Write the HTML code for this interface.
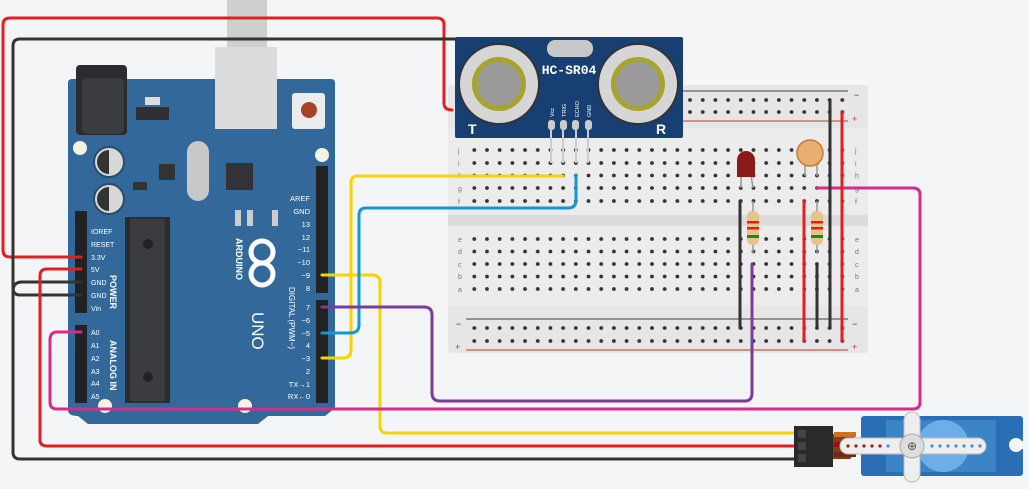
<!DOCTYPE html>
<html><head><style>
html,body{margin:0;padding:0;background:#f4f5f7;}
svg{display:block;font-family:"Liberation Sans",sans-serif;}
</style></head><body>
<svg width="1029" height="489" viewBox="0 0 1029 489">
<rect width="1029" height="489" fill="#f4f5f7"/>
<rect x="227" y="0" width="40" height="48" fill="#cfcfcf"/>
<rect x="448" y="85" width="420" height="268" rx="3" fill="#e6e6e6"/>
<rect x="448" y="128" width="420" height="88" fill="#ececec"/>
<rect x="448" y="226" width="420" height="80" fill="#ececec"/>
<rect x="448" y="215" width="420" height="11" fill="#dcdcdc"/>
<line x1="466" y1="91" x2="848" y2="91" stroke="#444" stroke-width="1"/>
<line x1="466" y1="121" x2="848" y2="121" stroke="#c33" stroke-width="1"/>
<line x1="466" y1="319" x2="848" y2="319" stroke="#444" stroke-width="1"/>
<line x1="466" y1="350" x2="848" y2="350" stroke="#c33" stroke-width="1"/>
<g fill="#333" font-size="9">
<text x="854" y="98">−</text><text x="852" y="122" fill="#c33">+</text>
<text x="456" y="327">−</text><text x="455" y="350" fill="#c33">+</text>
<text x="852" y="327">−</text><text x="852" y="350" fill="#c33">+</text>
</g>
<defs>
<pattern id="hp" x="468" y="0" width="12.69" height="489" patternUnits="userSpaceOnUse">
<circle cx="6.3" cy="150" r="1.9" fill="#333"/><circle cx="6.3" cy="163" r="1.9" fill="#333"/>
<circle cx="6.3" cy="175.5" r="1.9" fill="#333"/><circle cx="6.3" cy="188" r="1.9" fill="#333"/>
<circle cx="6.3" cy="201" r="1.9" fill="#333"/><circle cx="6.3" cy="239" r="1.9" fill="#333"/>
<circle cx="6.3" cy="251.5" r="1.9" fill="#333"/><circle cx="6.3" cy="264" r="1.9" fill="#333"/>
<circle cx="6.3" cy="276.5" r="1.9" fill="#333"/><circle cx="6.3" cy="289" r="1.9" fill="#333"/>
<circle cx="6.3" cy="100" r="1.9" fill="#333"/><circle cx="6.3" cy="112" r="1.9" fill="#333"/>
<circle cx="6.3" cy="328" r="1.9" fill="#333"/><circle cx="6.3" cy="341" r="1.9" fill="#333"/>
</pattern>
</defs>
<rect x="468" y="95" width="381" height="250" fill="url(#hp)"/>
<g fill="#777" font-size="7">
<text x="458" y="153">j</text><text x="458" y="166">i</text><text x="458" y="178">h</text><text x="458" y="191">g</text><text x="458" y="204">f</text>
<text x="458" y="242">e</text><text x="458" y="254">d</text><text x="458" y="267">c</text><text x="458" y="279">b</text><text x="458" y="292">a</text>
<text x="855" y="153">j</text><text x="855" y="166">i</text><text x="855" y="178">h</text><text x="855" y="191">g</text><text x="855" y="204">f</text>
<text x="855" y="242">e</text><text x="855" y="254">d</text><text x="855" y="267">c</text><text x="855" y="279">b</text><text x="855" y="292">a</text>
</g>
<path d="M68,83 Q68,79 72,79 H331 Q335,79 335,83 V408 L325,416 H268 L258,424 H88 L78,416 Q68,416 68,410 Z" fill="#32699a"/>
<rect x="76" y="65" width="51" height="70" rx="4" fill="#2a2c2f"/>
<rect x="82" y="78" width="42" height="56" rx="5" fill="#3a3c40"/>
<rect x="136" y="107" width="33" height="13" fill="#2f3033"/>
<rect x="145" y="97" width="15" height="8" fill="#ddd"/>
<rect x="215" y="47" width="62" height="82" fill="#dcdcdc"/>
<rect x="292" y="93" width="33" height="36" rx="3" fill="#ececec"/>
<circle cx="309" cy="110" r="8" fill="#a5422a"/>
<circle cx="80" cy="148" r="7" fill="#f4f2e2"/><circle cx="322" cy="155" r="7" fill="#f4f2e2"/>
<circle cx="105" cy="406" r="7" fill="#f4f2e2"/><circle cx="245" cy="406" r="7" fill="#f4f2e2"/>
<circle cx="109" cy="162" r="15" fill="#d8d8d8" stroke="#2b4b6a" stroke-width="2"/>
<path d="M109,150 A12,12 0 0 0 109,174 Z" fill="#333"/>
<circle cx="109" cy="199" r="15" fill="#d8d8d8" stroke="#2b4b6a" stroke-width="2"/>
<path d="M109,187 A12,12 0 0 0 109,211 Z" fill="#333"/>
<rect x="159" y="164" width="16" height="16" fill="#333"/>
<rect x="226" y="163" width="27" height="27" fill="#333"/>
<rect x="187" y="141" width="22" height="60" rx="11" fill="#c8c8c8"/>
<rect x="133" y="182" width="14" height="8" fill="#333"/>
<rect x="125" y="217" width="45" height="186" fill="#2a2c2f"/>
<rect x="130" y="219" width="35" height="182" fill="#3a3c40"/>
<circle cx="148" cy="244" r="5" fill="#222"/><circle cx="148" cy="377" r="5" fill="#222"/>
<rect x="75" y="211" width="12" height="102" fill="#222"/>
<rect x="75" y="325" width="12" height="78" fill="#222"/>
<rect x="316" y="166" width="12" height="127" fill="#222"/>
<rect x="316" y="300" width="12" height="103" fill="#222"/>
<rect x="235" y="210" width="6" height="16" fill="#ccc"/><rect x="247" y="210" width="6" height="16" fill="#ccc"/><rect x="272" y="210" width="6" height="16" fill="#ccc"/>
<g fill="#fff" font-size="7.5" text-anchor="end">
<text x="310" y="201">AREF</text><text x="310" y="214">GND</text><text x="310" y="227">13</text><text x="310" y="240">12</text>
<text x="310" y="252">~11</text><text x="310" y="265">~10</text><text x="310" y="278">~9</text><text x="310" y="291">8</text>
<text x="310" y="310">7</text><text x="310" y="323">~6</text><text x="310" y="336">~5</text><text x="310" y="348">4</text>
<text x="310" y="361">~3</text><text x="310" y="374">2</text><text x="310" y="387">TX→1</text><text x="310" y="399">RX←0</text>
</g>
<g fill="#fff" font-size="7">
<text x="91" y="234">IOREF</text><text x="91" y="247">RESET</text><text x="91" y="260">3.3V</text><text x="91" y="272">5V</text>
<text x="91" y="285">GND</text><text x="91" y="298">GND</text><text x="91" y="311">Vin</text>
<text x="91" y="335">A0</text><text x="91" y="348">A1</text><text x="91" y="361">A2</text><text x="91" y="374">A3</text><text x="91" y="386">A4</text><text x="91" y="399">A5</text>
</g>
<g fill="#fff" font-size="9" font-weight="bold">
<text transform="translate(110,275) rotate(90)">POWER</text>
<text transform="translate(110,340) rotate(90)">ANALOG IN</text>
<text transform="translate(236,238) rotate(90)">ARDUINO</text>
<text transform="translate(289,287) rotate(90)" font-weight="normal" font-size="8">DIGITAL (PWM~)</text>
<text transform="translate(252,312) rotate(90)" font-size="17" font-weight="normal">UNO</text>
</g>
<circle cx="262" cy="252" r="11" fill="none" stroke="#fff" stroke-width="5"/>
<circle cx="262" cy="274" r="11" fill="none" stroke="#fff" stroke-width="5"/>
<rect x="455" y="37" width="228" height="101" rx="2" fill="#173f72"/>
<rect x="547" y="40" width="46" height="17" rx="8" fill="#c8c8c8"/>
<text x="569" y="74" fill="#fff" font-size="13" font-weight="bold" text-anchor="middle" font-family="Liberation Mono,monospace">HC-SR04</text>
<circle cx="499" cy="84" r="40" fill="#d6d6d6" stroke="#333" stroke-width="2"/>
<circle cx="499" cy="84" r="27" fill="#a7a32c"/><circle cx="499" cy="84" r="22" fill="#9a9a9a"/>
<circle cx="638" cy="84" r="40" fill="#d6d6d6" stroke="#333" stroke-width="2"/>
<circle cx="638" cy="84" r="27" fill="#a7a32c"/><circle cx="638" cy="84" r="22" fill="#9a9a9a"/>
<g fill="#ccc"><rect x="548" y="120" width="7" height="10" rx="3"/><rect x="560" y="120" width="7" height="10" rx="3"/><rect x="572" y="120" width="7" height="10" rx="3"/><rect x="585" y="120" width="7" height="10" rx="3"/></g>
<g stroke="#ccc" stroke-width="2"><line x1="551" y1="130" x2="551" y2="163"/><line x1="563" y1="130" x2="563" y2="163"/><line x1="576" y1="130" x2="576" y2="163"/><line x1="588" y1="130" x2="588" y2="163"/></g>
<g fill="#fff" font-size="5.5">
<text transform="translate(554,117) rotate(-90)">Vcc</text><text transform="translate(566,117) rotate(-90)">TRIG</text>
<text transform="translate(579,117) rotate(-90)">ECHO</text><text transform="translate(591,117) rotate(-90)">GND</text>
<text x="468" y="134" font-size="14" font-weight="bold">T</text><text x="656" y="134" font-size="14" font-weight="bold">R</text>
</g>
<g fill="none" stroke-width="3" stroke-linecap="round">
<path d="M81,257 H10 Q3,257 3,250 V25 Q3,18 10,18 H437 Q444,18 444,25 V103 Q444,110 452,110" stroke="#e02020"/>
<path d="M455,39 H20 Q13,39 13,46 V288 Q13,295 20,295 H81" stroke="#333"/>
<path d="M81,282 H22 Q13,282 13,291 V452 Q13,459 20,459 H795" stroke="#333"/>
<path d="M81,269 H47 Q40,269 40,276 V440 Q40,446 47,446 H795" stroke="#e02020"/>
<path d="M322,275 H372 Q380,275 380,283 V426 Q380,433 387,433 H795" stroke="#f5d400"/>
<path d="M322,358 H343 Q351,358 351,350 V183 Q351,176 358,176 H563" stroke="#f5d400"/>
<path d="M322,333 H350 Q359,333 359,325 V215 Q359,208 366,208 H568 Q576,208 576,200 V175" stroke="#1596d6"/>
<path d="M322,307 H424 Q432,307 432,315 V393 Q432,401 440,401 H745 Q752,401 752,393 V264" stroke="#7b3c98"/>
<path d="M81,332 H57 Q50,332 50,340 V402 Q50,409 57,409 H913 Q920,409 920,402 V195 Q920,188 913,188 H817" stroke="#d62b8a"/>
<line x1="740" y1="201" x2="740" y2="328" stroke="#333"/>
<line x1="804" y1="201" x2="804" y2="341" stroke="#e02020"/>
<line x1="817" y1="264" x2="817" y2="328" stroke="#333"/>
<line x1="830" y1="100" x2="830" y2="328" stroke="#333"/>
<line x1="842" y1="112" x2="842" y2="341" stroke="#e02020"/>
</g>
<g stroke="#999" stroke-width="1.5"><line x1="741" y1="175" x2="741" y2="188"/><line x1="751" y1="175" x2="753" y2="188"/>
<line x1="753" y1="201" x2="753" y2="253"/><line x1="817" y1="201" x2="817" y2="253"/><line x1="805" y1="160" x2="805" y2="176"/><line x1="817" y1="160" x2="817" y2="176"/></g>
<path d="M737,177 V160 A9,9 0 0 1 755,160 V177 Z" fill="#8b1a1a"/>
<circle cx="810" cy="153" r="13" fill="#e8b070" stroke="#c47a30" stroke-width="1.5"/>
<rect x="747" y="211" width="12" height="34" rx="5" fill="#e8c48a"/>
<rect x="747" y="221" width="12" height="2.5" fill="#e02020"/><rect x="747" y="227" width="12" height="2.5" fill="#e02020"/><rect x="747" y="235" width="12" height="3" fill="#128a28"/>
<rect x="811" y="211" width="12" height="34" rx="5" fill="#e8c48a"/>
<rect x="811" y="221" width="12" height="2.5" fill="#e02020"/><rect x="811" y="227" width="12" height="2.5" fill="#e02020"/><rect x="811" y="235" width="12" height="3" fill="#128a28"/>
<!-- Servo -->
<rect x="861" y="416" width="162" height="60" rx="3" fill="#2a6fb5"/>
<rect x="886" y="420" width="110" height="52" fill="#3b84c8"/>
<circle cx="943" cy="446" r="26" fill="#6eaee8"/>
<circle cx="1016" cy="445" r="7" fill="#f4f5f7"/>
<rect x="1016" y="441" width="8" height="8" fill="#f4f5f7"/>
<path d="M833,434 L850,433 L862,445 L850,459 L833,459 Z" fill="#8a3a14"/>
<rect x="834" y="432" width="22" height="5" fill="#d07020"/>
<rect x="834" y="442" width="22" height="5" fill="#9a1010"/>
<rect x="834" y="452" width="22" height="5" fill="#6a2a14"/>
<rect x="840" y="438" width="146" height="16" rx="8" fill="#eee" stroke="#bbb"/>
<rect x="904" y="412" width="16" height="70" rx="8" fill="#eee" stroke="#bbb"/>
<g fill="#9a1818"><circle cx="848" cy="446" r="1.6"/><circle cx="856" cy="446" r="1.6"/><circle cx="864" cy="446" r="1.6"/><circle cx="872" cy="446" r="1.6"/><circle cx="880" cy="446" r="1.6"/></g>
<g fill="#4a8ccc"><circle cx="888" cy="446" r="1.6"/><circle cx="932" cy="446" r="1.6"/><circle cx="940" cy="446" r="1.6"/><circle cx="948" cy="446" r="1.6"/><circle cx="956" cy="446" r="1.6"/><circle cx="964" cy="446" r="1.6"/><circle cx="972" cy="446" r="1.6"/><circle cx="980" cy="446" r="1.6"/></g>
<circle cx="912" cy="446" r="12" fill="#ddd" stroke="#aaa"/>
<text x="912" y="450" font-size="12" text-anchor="middle" fill="#555">⊕</text>
<rect x="794" y="426" width="39" height="41" fill="#2a2a2a"/>
<rect x="798" y="430" width="8" height="8" fill="#444"/><rect x="798" y="442" width="8" height="8" fill="#444"/><rect x="798" y="454" width="8" height="8" fill="#444"/>
</svg>
</body></html>
